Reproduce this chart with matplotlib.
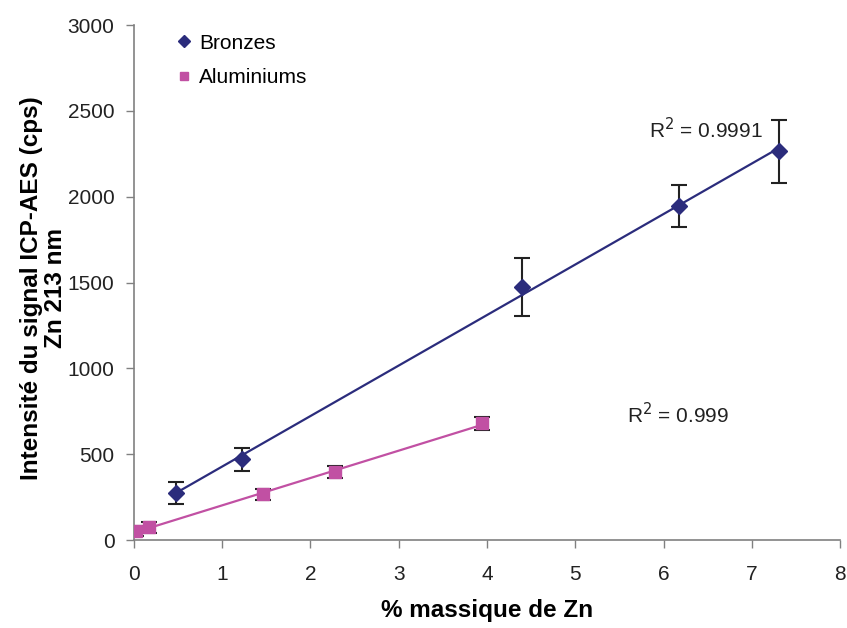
import matplotlib
matplotlib.use("Agg")
import matplotlib.pyplot as plt
import numpy as np

plt.rcParams['font.family'] = ['Liberation Sans', 'DejaVu Sans']

# Data
bronze_x = [0.48, 1.22, 4.40, 6.17, 7.31]
bronze_y = [275, 472, 1475, 1945, 2265]
bronze_err = [63, 67, 170, 121, 185]

alu_x = [0.03, 0.17, 1.46, 2.28, 3.94]
alu_y = [54, 74, 266, 396, 680]
alu_err = [28, 30, 30, 35, 38]

x_ticks = [0, 1, 2, 3, 4, 5, 6, 7, 8]
y_ticks = [0, 500, 1000, 1500, 2000, 2500, 3000]

blue = '#2B2C7C'
pink = '#C150A3'

fig = plt.figure(figsize=(8.47, 6.28), dpi=100)
ax = fig.add_axes([0.158, 0.140, 0.834, 0.820])

# Error bars
ax.errorbar(bronze_x, bronze_y, yerr=bronze_err, fmt='none', ecolor='#222222',
            elinewidth=1.5, capsize=6, capthick=1.5, zorder=2)
ax.errorbar(alu_x, alu_y, yerr=alu_err, fmt='none', ecolor='#222222',
            elinewidth=1.5, capsize=6, capthick=1.5, zorder=2)

# Trend lines
for xs, ys, c in [(bronze_x, bronze_y, blue), (alu_x, alu_y, pink)]:
    p = np.polyfit(xs, ys, 1)
    xx = np.array([min(xs), max(xs)])
    ax.plot(xx, np.polyval(p, xx), color=c, lw=1.6, zorder=3)

ax.plot(bronze_x, bronze_y, linestyle='none', marker='D', markersize=8,
        color=blue, zorder=4, label='Bronzes')
ax.plot(alu_x, alu_y, linestyle='none', marker='s', markersize=8,
        color=pink, zorder=4, label='Aluminiums')

ax.text(5.84, 2390, 'R$^2$ = 0.9991', fontsize=15, color='#222222', va='center')
ax.text(5.59, 730, 'R$^2$ = 0.999', fontsize=15, color='#222222', va='center')

ax.set_xlim(0, 8)
ax.set_ylim(0, 3000)
ax.set_xticks(x_ticks)
ax.set_yticks(y_ticks)
ax.tick_params(axis='both', labelsize=15, length=6, width=1,
               direction='out', colors='#808080', labelcolor='#222222')
ax.tick_params(axis='x', pad=12)
ax.tick_params(axis='y', pad=8)
for s in ['top', 'right']:
    ax.spines[s].set_visible(False)
for s in ['left', 'bottom']:
    ax.spines[s].set_color('#808080')
    ax.spines[s].set_linewidth(1.2)

ax.set_xlabel('% massique de Zn', fontsize=17.5, fontweight='bold', labelpad=11)
ax.set_ylabel('Intensité du signal ICP-AES (cps)\nZn 213 nm', fontsize=17.5,
              fontweight='bold', linespacing=1.1)
ax.yaxis.set_label_coords(-0.128, 0.49)
ax.yaxis.label.set_verticalalignment('center')

leg = ax.legend(loc='upper left', bbox_to_anchor=(0.03, 1.02), frameon=False,
                fontsize=15, handletextpad=0.2, labelspacing=0.75, markerscale=0.8,
                handlelength=1.0)

fig.savefig('out.png', dpi=100)
